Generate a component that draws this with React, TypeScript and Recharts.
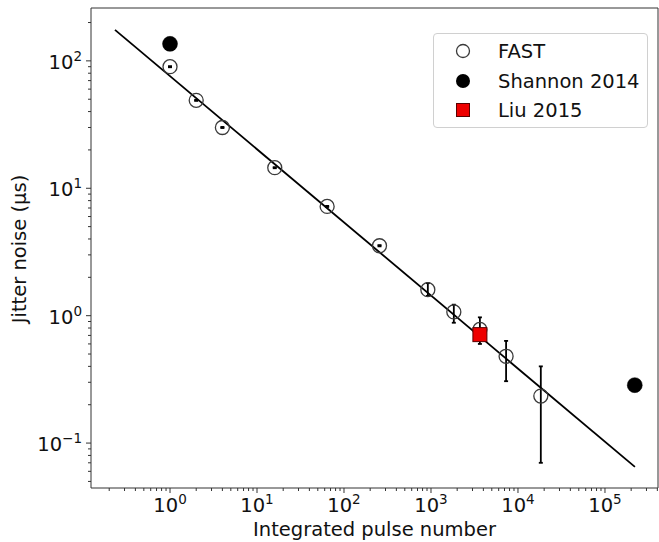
import React from 'react';
import { ScatterChart, Scatter, XAxis, YAxis, ErrorBar, Legend, ReferenceArea, Label } from 'recharts';

// ---- data ----
const fastN = [1, 2, 4, 16, 64, 256, 920, 1830, 3650, 7300, 18300];
const fastJitter = [90, 49, 30, 14.5, 7.2, 3.54, 1.6, 1.07, 0.78, 0.48, 0.234];
const fastLow = [89.1, 48.5, 29.7, 14.36, 7.13, 3.5, 1.43, 0.88, 0.6, 0.306, 0.07];
const fastHigh = [90.9, 49.5, 30.3, 14.64, 7.27, 3.58, 1.8, 1.22, 0.97, 0.634, 0.4];
const shannonN = [1, 220000];
const shannonJitter = [136, 0.285];
const liuN = [3650];
const liuJitter = [0.71];
const fitN = [0.233, 221000];
const fitJitter = [175, 0.065];

const seriesNames = ['FAST', 'Shannon 2014', 'Liu 2015'];
const xLabel = 'Integrated pulse number';
const yLabel = 'Jitter noise (\u00b5s)';

const xMajorTicks = [1, 10, 100, 1000, 10000, 100000];
const yMajorTicks = [0.1, 1, 10, 100];
const xDomain: [number, number] = [0.1235, 407000];
const yDomain: [number, number] = [0.0444, 260];

// ---- derived tables ----
const fastData = fastN.map((n, i) => ({
  n,
  j: fastJitter[i],
  err: [fastJitter[i] - fastLow[i], fastHigh[i] - fastJitter[i]],
}));
const shannonData = shannonN.map((n, i) => ({ n, j: shannonJitter[i] }));
const liuData = liuN.map((n, i) => ({ n, j: liuJitter[i] }));
const fitData = fitN.map((n, i) => ({ n, j: fitJitter[i] }));

function logTicks(domain: [number, number]) {
  const out: number[] = [];
  const d0 = Math.floor(Math.log10(domain[0]));
  const d1 = Math.ceil(Math.log10(domain[1]));
  for (let d = d0; d <= d1; d++) {
    for (let m = 1; m <= 9; m++) {
      const v = m * Math.pow(10, d);
      if (v >= domain[0] && v <= domain[1]) out.push(v);
    }
  }
  return out;
}
const xTicks = logTicks(xDomain);
const yTicks = logTicks(yDomain);

const isMajor = (v: number, majors: number[]) =>
  majors.some((m) => Math.abs(Math.log10(v) - Math.log10(m)) < 1e-6);
const expOf = (v: number) => {
  const e = Math.round(Math.log10(v));
  return e < 0 ? '\u2212' + Math.abs(e) : String(e);
};

const FONT = '"DejaVu Sans", sans-serif';
const TXT = '#111';
const AX = '#333';
const FS = 19.5;
const SUP = 13.5;

const XTick = (props: any) => {
  const { x, y, payload } = props;
  const v = payload.value;
  const major = isMajor(v, xMajorTicks);
  return (
    <g>
      <line x1={x} x2={x} y1={y} y2={y + (major ? 5 : 3)} stroke={AX} strokeWidth={1} />
      {major && (
        <text x={x} y={y + 24} textAnchor="middle" fontFamily={FONT} fontSize={FS} fill={TXT}>
          10<tspan dy={-8} fontSize={SUP}>{expOf(v)}</tspan>
        </text>
      )}
    </g>
  );
};

const YTick = (props: any) => {
  const { x, y, payload } = props;
  const v = payload.value;
  const major = isMajor(v, yMajorTicks);
  return (
    <g>
      <line x1={x} x2={x - (major ? 5 : 3)} y1={y} y2={y} stroke={AX} strokeWidth={1} />
      {major && (
        <text x={x - 9} y={y + 8} textAnchor="end" fontFamily={FONT} fontSize={FS} fill={TXT}>
          10<tspan dy={-8} fontSize={SUP}>{expOf(v)}</tspan>
        </text>
      )}
    </g>
  );
};

const OpenCircle = (props: any) => (
  <circle cx={props.cx} cy={props.cy} r={7} fill="none" stroke="#3a3a3a" strokeWidth={1.3} />
);
const FilledCircle = (props: any) => (
  <circle cx={props.cx} cy={props.cy} r={7.5} fill="#000" stroke="#000" strokeWidth={0.5} />
);
const RedSquare = (props: any) => (
  <rect x={props.cx - 7} y={props.cy - 7} width={14} height={14} fill="#ee0000" stroke="#5a0000" strokeWidth={1} />
);
const NoShape = () => <g />;

const LegendBox = () => {
  const rows = [
    (cy: number) => <circle cx={29} cy={cy} r={6.5} fill="none" stroke="#3a3a3a" strokeWidth={1.3} />,
    (cy: number) => <circle cx={29} cy={cy} r={7} fill="#000" />,
    (cy: number) => <rect x={22.5} y={cy - 6.5} width={13} height={13} fill="#ee0000" stroke="#5a0000" strokeWidth={1} />,
  ];
  const rowY = [17, 47, 76];
  return (
    <div
      style={{
        width: 213,
        height: 93,
        border: '1px solid #d0d0d0',
        borderRadius: 4,
        background: 'rgba(255,255,255,0.85)',
        boxSizing: 'content-box',
      }}
    >
      <svg width={213} height={93} style={{ display: 'block' }}>
        {seriesNames.map((name, i) => (
          <g key={name}>
            {rows[i](rowY[i])}
            <text x={64} y={rowY[i] + 7} fontFamily={FONT} fontSize={FS} fill={TXT}>
              {name}
            </text>
          </g>
        ))}
      </svg>
    </div>
  );
};

export default function App() {
  return (
    <div style={{ position: 'absolute', left: 0, top: 0, width: 659, height: 542, background: '#fff' }}>
      <ScatterChart width={659} height={542} margin={{ top: 8, right: 1, bottom: 0, left: 0 }}>
        <XAxis
          dataKey="n"
          type="number"
          scale="log"
          domain={xDomain}
          allowDataOverflow
          ticks={xTicks}
          interval={0}
          tick={<XTick />}
          tickLine={false}
          tickSize={0}
          tickMargin={0}
          axisLine={false}
          height={54}
        >
          <Label
            content={(p: any) => {
              const vb = p.viewBox;
              return (
                <text
                  x={vb.x + vb.width / 2}
                  y={vb.y + 48}
                  textAnchor="middle"
                  fontFamily={FONT}
                  fontSize={FS}
                  fill={TXT}
                >
                  {xLabel}
                </text>
              );
            }}
          />
        </XAxis>
        <YAxis
          dataKey="j"
          type="number"
          scale="log"
          domain={yDomain}
          allowDataOverflow
          ticks={yTicks}
          interval={0}
          tick={<YTick />}
          tickLine={false}
          tickSize={0}
          tickMargin={0}
          axisLine={false}
          width={91}
        >
          <Label
            content={(p: any) => {
              const vb = p.viewBox;
              const cx = vb.x + 26;
              const cy = vb.y + vb.height / 2 + 1;
              return (
                <text
                  x={cx}
                  y={cy}
                  transform={`rotate(-90, ${cx}, ${cy})`}
                  textAnchor="middle"
                  fontFamily={FONT}
                  fontSize={FS}
                  fill={TXT}
                >
                  {yLabel}
                </text>
              );
            }}
          />
        </YAxis>
        <ReferenceArea
          x1={xDomain[0]}
          x2={xDomain[1]}
          y1={yDomain[0]}
          y2={yDomain[1]}
          fill="none"
          stroke={AX}
          strokeWidth={1}
          ifOverflow="visible"
        />
        <Scatter
          name="fit"
          data={fitData}
          line={{ stroke: '#000', strokeWidth: 1.8 }}
          shape={NoShape}
          legendType="none"
          isAnimationActive={false}
        />
        <Scatter name={seriesNames[0]} data={fastData} shape={OpenCircle} isAnimationActive={false}>
          <ErrorBar dataKey="err" direction="y" width={2} stroke="#000" strokeWidth={1.8} isAnimationActive={false} />
        </Scatter>
        <Scatter name={seriesNames[1]} data={shannonData} shape={FilledCircle} isAnimationActive={false} />
        <Scatter name={seriesNames[2]} data={liuData} shape={RedSquare} isAnimationActive={false} />
        <Legend
          layout="vertical"
          align="center"
          verticalAlign="middle"
          wrapperStyle={{ left: 433, top: 33, width: 215, height: 95 }}
          content={() => <LegendBox />}
        />
      </ScatterChart>
    </div>
  );
}
